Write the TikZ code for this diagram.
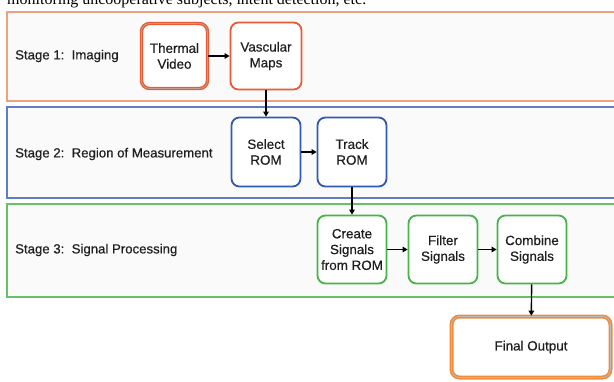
\documentclass[tikz,border=0pt]{standalone}
\usepackage{fontspec}
\setmainfont{Liberation Sans}[FakeBold=0.4]
\newfontfamily\serifcap{Liberation Serif}
\newfontfamily\diagfont{Liberation Sans}[FakeBold=0.45]
\usetikzlibrary{arrows.meta}
\definecolor{sonef}{RGB}{240,160,130}
\definecolor{sonen}{RGB}{232,92,55}
\definecolor{stwof}{RGB}{95,125,200}
\definecolor{stwon}{RGB}{50,90,180}
\definecolor{sthreef}{RGB}{105,192,105}
\definecolor{sthreen}{RGB}{70,180,70}
\definecolor{finalc}{RGB}{240,140,60}
\definecolor{panelbg}{RGB}{250,250,250}
\definecolor{txtc}{RGB}{30,30,30}
\tikzset{
  panel/.style={line width=1.3pt, fill=panelbg},
  stagelabel/.style={anchor=west, inner sep=0pt, text=txtc, font=\diagfont\fontsize{13.2}{15.8}\selectfont},
  procbox/.style={rounded corners=8pt, line width=1.8pt, fill=white, align=center, text=txtc,
     inner sep=0pt, font=\diagfont\fontsize{13.4}{15.8}\selectfont},
  flow/.style={line width=1.4pt, -{Triangle[length=5pt,width=5.5pt]}},
}
\begin{document}
\begin{tikzpicture}[x=1pt,y=-1pt]
\useasboundingbox (0,0) rectangle (614,381);
\clip (0,0) rectangle (614,381);
\fill[white] (0,0) rectangle (614,381);
% clipped caption line at the top
\node[anchor=base west, inner sep=0pt, font=\serifcap\fontsize{16}{18}\selectfont] (cap) at (7,4.5)
  {monitoring uncooperative subjects, intent detection, etc.};
% stage panels
\draw[panel, draw=sonef] (7,12) rectangle (620,101);
\draw[panel, draw=stwof] (7,107) rectangle (620,198);
\draw[panel, draw=sthreef] (7,204) rectangle (620,297);
\node[stagelabel] (l1) at (15,56) {Stage 1:\ \ Imaging};
\node[stagelabel] (l2) at (15,154) {Stage 2:\ \ Region of Measurement};
\node[stagelabel] (l3) at (15,250) {Stage 3:\ \ Signal Processing};
% stage 1
\node[procbox, draw=sonen, double=sonen!45!gray!70, double distance=0.8pt, line width=1.3pt,
      minimum width=66pt, minimum height=65pt] (tv) at (174.5,56) {Thermal\\Video};
\node[procbox, draw=sonen, minimum width=71pt, minimum height=67pt] (vm) at (266,56) {Vascular\\Maps};
% stage 2
\node[procbox, draw=stwon, minimum width=69pt, minimum height=69pt] (sr) at (266,152) {Select\\ROM};
\node[procbox, draw=stwon, minimum width=69pt, minimum height=69pt] (tr) at (352,152) {Track\\ROM};
% stage 3
\node[procbox, draw=sthreen, minimum width=69pt, minimum height=68pt] (cs) at (352,249.5) {Create\\Signals\\from ROM};
\node[procbox, draw=sthreen, minimum width=69pt, minimum height=68pt] (fs) at (443,249.5) {Filter\\Signals};
\node[procbox, draw=sthreen, minimum width=69pt, minimum height=68pt] (cb) at (532,249.5) {Combine\\Signals};
% final
\node[procbox, draw=finalc, double=gray!55, double distance=0.8pt, line width=1.6pt,
      minimum width=159pt, minimum height=61pt] (fo) at (531,347) {Final Output};
% connectors
\draw[flow] (tv) -- (vm);
\draw[flow] (vm) -- (sr);
\draw[flow] (sr) -- (tr);
\draw[flow] (tr) -- (cs);
\draw[flow] (cs) -- (fs);
\draw[flow] (fs) -- (cb);
\draw[flow] (cb) -- (fo);
\end{tikzpicture}
\end{document}
